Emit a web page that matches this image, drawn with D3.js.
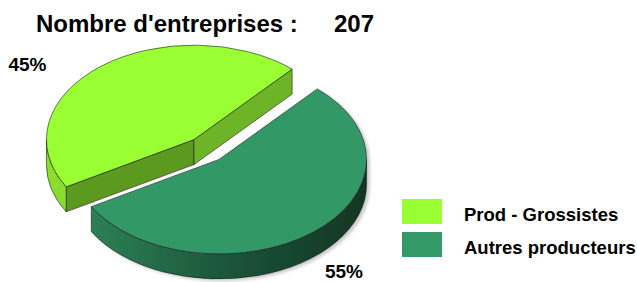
<!DOCTYPE html>
<html>
<head>
<meta charset="utf-8">
<script src="https://cdn.jsdelivr.net/npm/d3@7"></script>
<style>
  body { margin: 0; background: #fff; }
  svg { display: block; font-family: Arial, "Liberation Sans", sans-serif; font-weight: bold; }
</style>
</head>
<body>
<svg id="chart" width="637" height="282"></svg>
<script>
// data
var categories = ["Prod - Grossistes", "Autres producteurs"];
var counts = [93, 114];            // 45% / 55% of 207
var total = 207;
var titleText = "Nombre d'entreprises :";

// colours
var topColors = ["#99ff33", "#339966"],
    rimColors = [["#8ade2c", "#7acb25"], ["#2c8055", "#1c5439", "#113524"]],
    faceColors = [["#5b9a1e", "#6db526"], ["#1f5c3f", "#1f5c3f"]];

var svg = d3.select("#chart"),
    rx = 147.5, ry = 94.5, depth = 25,
    cx0 = 206.5, cy0 = 149.5, explode = 0.135;

var pie = d3.pie().sort(null)
    .startAngle(240 * Math.PI / 180)
    .endAngle(600 * Math.PI / 180);

var slices = pie(counts).map((d, i) => {
  var t0 = d.startAngle - Math.PI / 2,
      t1 = d.endAngle - Math.PI / 2,
      mid = (t0 + t1) / 2;
  return {
    i: i, t0: t0, t1: t1,
    cx: cx0 + explode * rx * Math.cos(mid),
    cy: cy0 + explode * ry * Math.sin(mid),
    pct: Math.round(d.value / total * 100)
  };
});

function pt(s, t, dz) {
  return [s.cx + rx * Math.cos(t), s.cy + ry * Math.sin(t) + (dz || 0)];
}

var defs = svg.append("defs");

defs.append("filter").attr("id", "shadow")
  .attr("x", "-10%").attr("y", "-10%").attr("width", "130%").attr("height", "130%")
  .append("feDropShadow")
  .attr("dx", 3).attr("dy", 2).attr("stdDeviation", 1.5)
  .attr("flood-color", "#000").attr("flood-opacity", 0.2);

slices.forEach(s => {
  var g = defs.append("linearGradient")
    .attr("id", "rim" + s.i)
    .attr("gradientUnits", "userSpaceOnUse")
    .attr("x1", s.cx - rx).attr("x2", s.cx + rx)
    .attr("y1", 0).attr("y2", 0);
  var cols = rimColors[s.i];
  if (s.i == 0) {
    g.append("stop").attr("offset", 0).attr("stop-color", cols[0]);
    g.append("stop").attr("offset", 1).attr("stop-color", cols[1]);
  } else {
    // left part of the dark rim is only visible from about x=90
    var a = (pt(s, s.t1)[0] - (s.cx - rx)) / (2 * rx);
    g.append("stop").attr("offset", a).attr("stop-color", cols[0]);
    g.append("stop").attr("offset", (a + 1) / 2).attr("stop-color", cols[1]);
    g.append("stop").attr("offset", 1).attr("stop-color", cols[2]);
  }
});

// draw back slice first (light one sits up and left)
slices.forEach(s => {
  var g = svg.append("g")
    .attr("stroke", "#1c1c1c")
    .attr("stroke-width", 0.6)
    .attr("stroke-linejoin", "round");
  if (s.i == 1) g.attr("filter", "url(#shadow)");

  var c = [s.cx, s.cy];

  // cut faces, only the ones turned to the viewer
  [[s.t0, Math.cos(s.t0) < 0, 0], [s.t1, Math.cos(s.t1) > 0, 1]].forEach(f => {
    if (!f[1]) return;
    var p = pt(s, f[0]), q = pt(s, f[0], depth);
    g.append("path")
      .attr("d", "M" + c + "L" + p + "L" + q + "L" + [c[0], c[1] + depth] + "Z")
      .attr("fill", faceColors[s.i][f[2]]);
  });

  // outer rim, front half only
  for (var k = -1; k < 3; k++) {
    var a = Math.max(s.t0, 2 * Math.PI * k),
        b = Math.min(s.t1, 2 * Math.PI * k + Math.PI);
    if (b <= a) continue;
    var p1 = pt(s, a), p2 = pt(s, b), p3 = pt(s, b, depth), p4 = pt(s, a, depth);
    g.append("path")
      .attr("d", "M" + p1 + "A" + rx + "," + ry + " 0 0 1 " + p2 +
        "L" + p3 + "A" + rx + "," + ry + " 0 0 0 " + p4 + "Z")
      .attr("fill", "url(#rim" + s.i + ")");
  }

  // top face
  var large = (s.t1 - s.t0) > Math.PI ? 1 : 0;
  g.append("path")
    .attr("d", "M" + c + "L" + pt(s, s.t0) + "A" + rx + "," + ry + " 0 " + large + " 1 " + pt(s, s.t1) + "Z")
    .attr("fill", topColors[s.i]);
});

// title
svg.append("text").attr("x", 36).attr("y", 32).attr("font-size", 24).text(titleText);
svg.append("text").attr("x", 334).attr("y", 32).attr("font-size", 24).text(total);

// percentage labels
var labelPos = [[27.5, 71], [344, 278]];
slices.forEach(s => {
  svg.append("text")
    .attr("x", labelPos[s.i][0]).attr("y", labelPos[s.i][1])
    .attr("text-anchor", "middle")
    .attr("font-size", 19)
    .text(s.pct + "%");
});

// legend
var legend = svg.append("g").attr("transform", "translate(402,199)");
var item = legend.selectAll("g").data(categories).join("g")
  .attr("transform", (d, i) => "translate(0," + i * 33 + ")");
item.append("rect").attr("width", 40).attr("height", 25)
  .attr("fill", (d, i) => topColors[i]);
item.append("text").attr("x", 62).attr("y", 22)
  .attr("font-size", 18.5).text(d => d);
</script>
</body>
</html>
